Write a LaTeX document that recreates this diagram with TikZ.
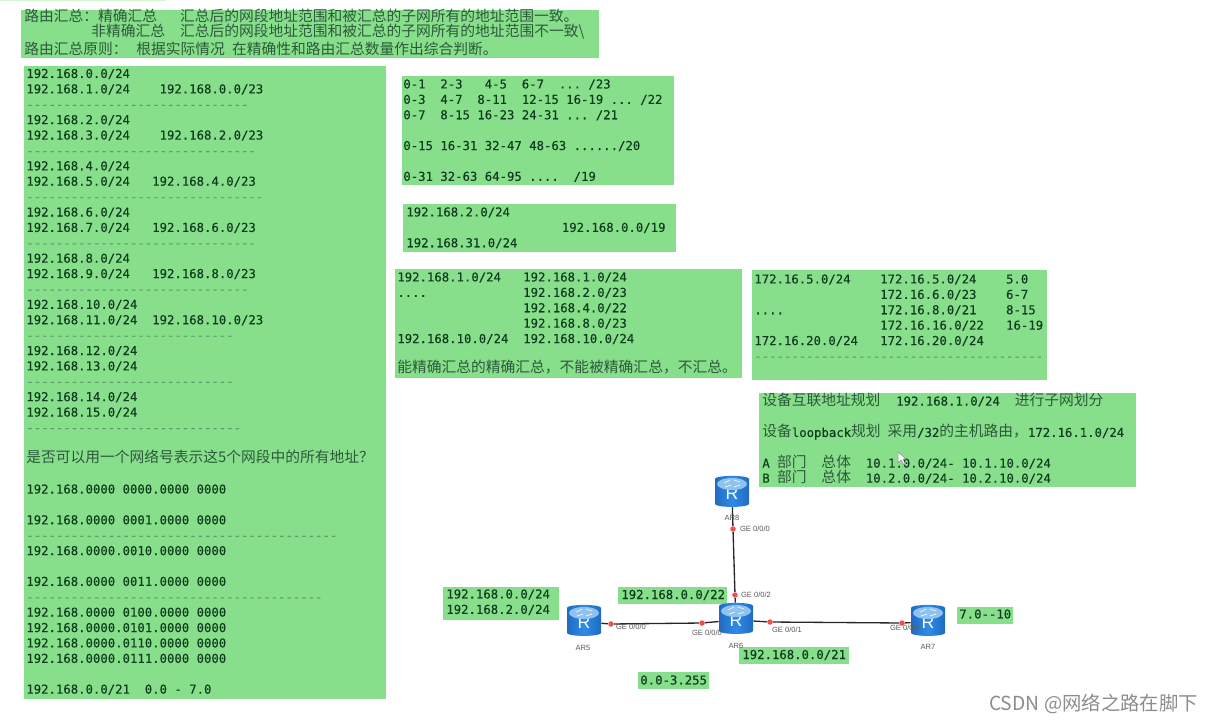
\documentclass[tikz,border=0pt]{standalone}
\usepackage{fontspec}
\setmonofont[FakeBold=0.25]{DejaVu Sans Mono}
\setsansfont{Liberation Sans}
\newfontfamily\cjk{Noto Sans CJK SC}
\usetikzlibrary{backgrounds,calc,fit,shapes.geometric}
\definecolor{boxgreen}{HTML}{88DF8B}
\definecolor{listgreen}{HTML}{0F3B1E}
\definecolor{zhgreen}{HTML}{2B5A3A}
\definecolor{dashgreen}{HTML}{5C9E6A}
\definecolor{routerblue}{HTML}{2F8BE6}
\definecolor{routerdark}{HTML}{1F6CC0}
\definecolor{routertop}{HTML}{8FC2F0}
\definecolor{portred}{HTML}{F0504A}
\definecolor{markgray}{HTML}{8C8C8C}
\newcommand{\zh}[2][8.4]{{\cjk\color{zhgreen}\fontsize{#1}{8.76}\selectfont #2}}
\newcommand{\dashrow}[1]{\textcolor{dashgreen}{\foreach \i in {1,...,#1}{-}}}
\newcommand{\routerR}{\raisebox{-2.5pt}{R}}
\tikzset{
    greenbox/.style={fill=boxgreen, inner sep=0pt},
    listtext/.style={anchor=north west, inner sep=0pt, align=left, text=listgreen,
        font=\ttfamily\fontsize{7}{8.76}\selectfont},
    oneline/.style={listtext, anchor=west},
    router/.style={cylinder, shape border rotate=90, aspect=0.45, minimum width=0.68cm,
        minimum height=0.62cm, inner sep=0pt, left color=routerdark, right color=routerdark,
        middle color=routerblue, text=white, font=\sffamily\fontsize{10}{10}\selectfont},
    port/.style={circle, fill=portred, inner sep=0pt, minimum size=0.11cm},
    portlabel/.style={inner sep=0pt, text=black!65, font=\sffamily\fontsize{4.3}{5}\selectfont},
    link/.style={black!85, line width=0.75pt},
}

\begin{document}
\begin{tikzpicture}[x=0.02cm, y=-0.02cm]
    \useasboundingbox (0,0) rectangle (1213,723);
    \fill[boxgreen!35] (0,0) rectangle (166,1);

    % green panels
    \node[greenbox, fit={(21,10) (599,58)}] (rulebox) {};
    \node[greenbox, fit={(24,66) (386,699)}] (listbox) {};
    \node[greenbox, fit={(402,76) (674,185)}] (rangebox) {};
    \node[greenbox, fit={(403,204) (676,252)}] (examplebox) {};
    \node[greenbox, fit={(395,269) (742,378)}] (splitbox) {};
    \node[greenbox, fit={(752,270) (1047,380)}] (classbbox) {};
    \node[greenbox, fit={(759,393) (1136,487)}] (planbox) {};
    \node[greenbox, fit={(443,587) (559,620)}] (leftnetbox) {};
    \node[greenbox, fit={(618,587) (727,604)}] (upnetbox) {};
    \node[greenbox, fit={(638,672) (709,689)}] (rangenetbox) {};
    \node[greenbox, fit={(739,647) (849,664)}] (rightnetbox) {};
    \node[greenbox, fit={(957,607) (1013,624)}] (farnetbox) {};

    \node[oneline] (ruleone) at (24,16) {\zh{路由汇总：精确汇总\hspace{13pt}汇总后的网段地址范围和被汇总的子网所有的地址范围一致。}};
    \node[oneline] (ruletwo) at (91,32) {\zh{非精确汇总\hspace{8.5pt}汇总后的网段地址范围和被汇总的子网所有的地址范围不一致\textbackslash}};
    \node[oneline] (rulethree) at (24,49) {\zh{路由汇总原则：\hspace{5pt}根据实际情况\hspace{4pt}在精确性和路由汇总数量作出综合判断。}};

    \node[listtext] (listtext) at (26,68.5) {192.168.0.0/24\\
        192.168.1.0/24~~~~192.168.0.0/23\\
        \dashrow{30}\\
        192.168.2.0/24\\
        192.168.3.0/24~~~~192.168.2.0/23\\
        \dashrow{31}\\
        192.168.4.0/24\\
        192.168.5.0/24~~~192.168.4.0/23\\
        \dashrow{32}\\
        192.168.6.0/24\\
        192.168.7.0/24~~~192.168.6.0/23\\
        \dashrow{31}\\
        192.168.8.0/24\\
        192.168.9.0/24~~~192.168.8.0/23\\
        \dashrow{30}\\
        192.168.10.0/24\\
        192.168.11.0/24~~192.168.10.0/23\\
        \dashrow{28}\\
        192.168.12.0/24\\
        192.168.13.0/24\\
        \dashrow{28}\\
        192.168.14.0/24\\
        192.168.15.0/24\\
        \dashrow{29}\\
        ~\\
        \zh{是否可以用一个网络号表示这5个网段中的所有地址？}\\
        ~\\
        192.168.0000 0000.0000 0000\\
        ~\\
        192.168.0000 0001.0000 0000\\
        \dashrow{42}\\
        192.168.0000.0010.0000 0000\\
        ~\\
        192.168.0000 0011.0000 0000\\
        \dashrow{40}\\
        192.168.0000 0100.0000 0000\\
        192.168.0000.0101.0000 0000\\
        192.168.0000.0110.0000 0000\\
        192.168.0000.0111.0000 0000\\
        ~\\
        192.168.0.0/21~~0.0 - 7.0};

    \node[listtext] (rangetext) at (403,79) {0-1~~2-3~~~4-5~~6-7~~... /23\\
        0-3~~4-7~~8-11~~12-15 16-19 ... /22\\
        0-7~~8-15 16-23 24-31 ... /21\\
        ~\\
        0-15 16-31 32-47 48-63 ....../20\\
        ~\\
        0-31 32-63 64-95 ....~~/19};

    \node[listtext] (exampletext) at (406,207) {192.168.2.0/24\\
        ~~~~~~~~~~~~~~~~~~~~~192.168.0.0/19\\
        192.168.31.0/24};

    \node[listtext] (splittext) at (397,272) {192.168.1.0/24~~~192.168.1.0/24\\
        ....~~~~~~~~~~~~~192.168.2.0/23\\
        ~~~~~~~~~~~~~~~~~192.168.4.0/22\\
        ~~~~~~~~~~~~~~~~~192.168.8.0/23\\
        192.168.10.0/24~~192.168.10.0/24};
    \node[oneline] (splitnote) at (397,367) {\zh{能精确汇总的精确汇总，不能被精确汇总，不汇总。}};

    \node[listtext] (classbtext) at (754,274) {172.16.5.0/24~~~~172.16.5.0/24~~~~5.0\\
        ~~~~~~~~~~~~~~~~~172.16.6.0/23~~~~6-7\\
        ....~~~~~~~~~~~~~172.16.8.0/21~~~~8-15\\
        ~~~~~~~~~~~~~~~~~172.16.16.0/22~~~16-19\\
        172.16.20.0/24~~~172.16.20.0/24\\
        \dashrow{39}};

    \node[oneline] (planone) at (762,400) {\zh{设备互联地址规划}\hspace{9pt}192.168.1.0/24\hspace{8.5pt}\zh{进行子网划分}};
    \node[oneline] (plantwo) at (762,432) {\zh{设备}loopback\zh{规划\hspace{4pt}采用}/32\zh{的主机路由，}172.16.1.0/24};
    \node[oneline] (planthree) at (762,462) {A~\zh{部门}~~\zh{总体}~~10.1.0.0/24- 10.1.10.0/24};
    \node[oneline] (planfour) at (762,477) {B~\zh{部门}~~\zh{总体}~~10.2.0.0/24- 10.2.10.0/24};

    \node[listtext] (leftnettext) at (446,589) {192.168.0.0/24\\192.168.2.0/24};
    \node[oneline] (upnettext) at (621,595) {192.168.0.0/22};
    \node[oneline] (rangenettext) at (640,680) {0.0-3.255};
    \node[oneline] (rightnettext) at (742,655) {192.168.0.0/21};
    \node[oneline] (farnettext) at (959,614) {7.0--10};

    % routers and links
    \node[router] (ar8) at (732,493) {\routerR};
    \node[router] (ar5) at (584,622) {\routerR};
    \node[router] (ar6) at (736,620) {\routerR};
    \node[router] (ar7) at (928,622) {\routerR};
    \foreach \r in {ar5,ar6,ar7,ar8} {
        \fill[routertop] ($(\r.center)+(0,-9)$) ellipse [x radius=15, y radius=6];
        \draw[white, line width=0.35pt] ($(\r.center)+(-8,-10)$) -- ($(\r.center)+(-2,-13)$);
        \draw[white, line width=0.35pt] ($(\r.center)+(2,-13)$) -- ($(\r.center)+(8,-11)$);
        \draw[white, line width=0.35pt] ($(\r.center)+(-7,-6)$) -- ($(\r.center)+(-1,-8)$);
        \draw[white, line width=0.35pt] ($(\r.center)+(2,-6)$) -- ($(\r.center)+(8,-8)$);
    }

    \node[port] (portar5) at (611,624) {};
    \node[port] (portar6w) at (702,623) {};
    \node[port] (portar8) at (733,529) {};
    \node[port] (portar6n) at (735,595) {};
    \node[port] (portar6e) at (770,622) {};
    \node[port] (portar7) at (902,623) {};

    \begin{pgfonlayer}{background}
        \draw[link] (ar8) -- (portar8) -- (portar6n) -- (ar6);
        \draw[link] (ar5) -- (portar5) -- (portar6w) -- (ar6);
        \draw[link] (ar6) -- (portar6e) -- (portar7) -- (ar7);
    \end{pgfonlayer}

    \node[portlabel] (labelar5) at (631,627) {GE 0/0/0};
    \node[portlabel] (labelar6w) at (707,633) {GE 0/0/0};
    \node[portlabel] (labelar8) at (755,529) {GE 0/0/0};
    \node[portlabel] (labelar6n) at (756,595) {GE 0/0/2};
    \node[portlabel] (labelar6e) at (787,630) {GE 0/0/1};
    \node[portlabel] (labelar7) at (905,628) {GE 0/0/0};

    \node[portlabel] (namear8) at (732,518) {AR8};
    \node[portlabel] (namear5) at (583,648) {AR5};
    \node[portlabel] (namear6) at (736,646) {AR6};
    \node[portlabel] (namear7) at (928,647) {AR7};

    \fill[white, draw=black!45, line width=0.3pt] (898,452) -- (898,463) -- (901,460) -- (904,465) -- (905,464) -- (903,459) -- (906,459) -- cycle;

    \node[inner sep=0pt, anchor=east, text=markgray, font=\cjk\fontsize{11}{11}\selectfont] (watermark) at (1198,704) {CSDN @网络之路在脚下};
\end{tikzpicture}
\end{document}
